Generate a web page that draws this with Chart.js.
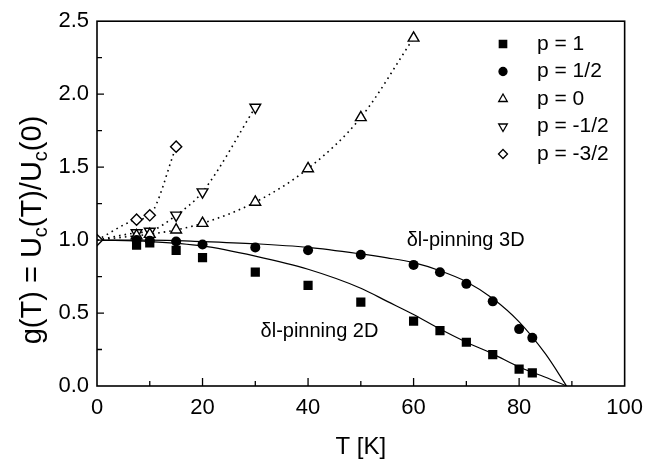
<!DOCTYPE html>
<html>
<head>
<meta charset="utf-8">
<script src="https://cdn.jsdelivr.net/npm/chart.js@4.4.1/dist/chart.umd.min.js"></script>
<style>
  html, body { margin: 0; padding: 0; background: #fff; }
  #wrap { width: 652px; height: 464px; }
</style>
</head>
<body>
<div id="wrap"><canvas id="myChart" width="652" height="464"></canvas></div>
<script>
// data
const tP1 = [7.5, 10, 15, 20, 30, 40, 50, 60, 65, 70, 75, 80, 82.5];
const gP1 = [0.965, 0.98, 0.93, 0.88, 0.78, 0.69, 0.575, 0.445, 0.38, 0.30, 0.215, 0.115, 0.09];

const tPhalf = [7.5, 10, 15, 20, 30, 40, 50, 60, 65, 70, 75, 80, 82.5];
const gPhalf = [1.0, 0.995, 0.99, 0.97, 0.95, 0.93, 0.90, 0.83, 0.78, 0.70, 0.58, 0.39, 0.33];

const tP0 = [0, 7.5, 10, 15, 20, 30, 40, 50, 60];
const gP0 = [1.0, 1.03, 1.04, 1.07, 1.115, 1.26, 1.49, 1.84, 2.385];

const tPmhalf = [0, 7.5, 10, 15, 20, 30];
const gPmhalf = [1.0, 1.05, 1.06, 1.17, 1.33, 1.91];

const tPm3half = [0, 7.5, 10, 15];
const gPm3half = [1.0, 1.14, 1.17, 1.64];

// solid fit curves
const tFit = [0, 10, 20, 30, 40, 50, 55, 60, 65, 70, 75, 80, 85, 89];
const gFit3D = [1.0, 1.0, 0.99, 0.975, 0.95, 0.905, 0.878, 0.845, 0.79, 0.715, 0.60, 0.44, 0.22, 0.0];
const gFit2D = [1.0, 0.99, 0.96, 0.89, 0.80, 0.67, 0.58, 0.49, 0.39, 0.30, 0.22, 0.13, 0.06, 0.0];

const xTicks = [0, 20, 40, 60, 80, 100];
const yTicks = [0, 0.5, 1.0, 1.5, 2.0, 2.5];

const legendLabels = ['p = 1', 'p = 1/2', 'p = 0', 'p = -1/2', 'p = -3/2'];
const notes = [
  { text: 'δl-pinning 3D', x: 58.7, y: 1.0 },
  { text: 'δl-pinning 2D', x: 31, y: 0.375 }
];

const FONT = '"Liberation Sans", Arial, Helvetica, sans-serif';
const pts = (xs, ys) => xs.map((x, i) => ({ x: x, y: ys[i] }));
const hideAtZero = (r) => (c) => (c.raw && c.raw.x === 0 ? 0 : r);

const markers = [
  { pointStyle: 'rect', radius: 6.5, rotation: 0, fill: '#000' },
  { pointStyle: 'circle', radius: 5, rotation: 0, fill: '#000' },
  { pointStyle: 'triangle', radius: 6.2, rotation: 0, fill: '#fff' },
  { pointStyle: 'triangle', radius: 6.2, rotation: 180, fill: '#fff' },
  { pointStyle: 'rectRot', radius: 5.6, rotation: 0, fill: '#fff' }
];

const frame = {
  id: 'frame',
  afterDatasetsDraw(chart) {
    const ctx = chart.ctx;
    const a = chart.chartArea;
    const xs = chart.scales.x, ys = chart.scales.y;
    ctx.save();
    ctx.strokeStyle = '#000';
    ctx.lineWidth = 1.6;
    ctx.strokeRect(a.left, a.top, a.right - a.left, a.bottom - a.top);

    // inward ticks
    ctx.lineWidth = 1.3;
    ctx.beginPath();
    for (let v = 10; v < 100; v += 10) {
      const px = xs.getPixelForValue(v);
      const len = v % 20 === 0 ? 8 : 5;
      ctx.moveTo(px, a.bottom);
      ctx.lineTo(px, a.bottom - len);
    }
    for (let v = 0.25; v < 2.5; v += 0.25) {
      const py = ys.getPixelForValue(v);
      const len = Math.abs(v * 2 - Math.round(v * 2)) < 1e-6 ? 7 : 5;
      ctx.moveTo(a.left, py);
      ctx.lineTo(a.left + len, py);
    }
    ctx.stroke();

    // notes
    ctx.fillStyle = '#000';
    ctx.font = '20px ' + FONT;
    ctx.textBaseline = 'middle';
    ctx.textAlign = 'left';
    notes.forEach(n => {
      ctx.fillText(n.text, xs.getPixelForValue(n.x), ys.getPixelForValue(n.y));
    });

    // legend
    const lx = 503, tx = 537;
    let ly = 44;
    ctx.font = '21px ' + FONT;
    legendLabels.forEach((lab, i) => {
      const m = markers[i];
      ctx.fillStyle = m.fill;
      ctx.strokeStyle = '#000';
      ctx.lineWidth = 1.3;
      Chart.helpers.drawPoint(ctx, {
        pointStyle: m.pointStyle, radius: m.radius * 0.8,
        rotation: m.rotation, borderWidth: 1.3
      }, lx, ly);
      ctx.fillStyle = '#000';
      ctx.fillText(lab, tx, ly);
      ly += 27.5;
    });

    // axis titles
    ctx.font = '24px ' + FONT;
    ctx.textAlign = 'center';
    ctx.fillText('T [K]', (a.left + a.right) / 2, 447);

    const parts = [['g(T) = U', 0], ['c', 1], ['(T)/U', 0], ['c', 1], ['(0)', 0]];
    const big = '29px ' + FONT, small = '20px ' + FONT;
    let total = 0;
    parts.forEach(p => { ctx.font = p[1] ? small : big; total += ctx.measureText(p[0]).width; });
    ctx.translate(33, 230);
    ctx.rotate(-Math.PI / 2);
    ctx.textAlign = 'left';
    let cx = -total / 2;
    parts.forEach(p => {
      ctx.font = p[1] ? small : big;
      ctx.fillText(p[0], cx, p[1] ? 8 : 0);
      cx += ctx.measureText(p[0]).width;
    });
    ctx.restore();
  }
};

const dotted = { borderColor: '#000', borderWidth: 1.6, borderDash: [1.6, 4], showLine: true,
  cubicInterpolationMode: 'monotone', pointBorderColor: '#000', pointBorderWidth: 1.4 };
const solid = { borderColor: '#000', borderWidth: 1.2, showLine: true, pointRadius: 0,
  cubicInterpolationMode: 'monotone' };

const chart = new Chart(document.getElementById('myChart'), {
  type: 'scatter',
  data: {
    datasets: [
      { label: 'p = 1', data: pts(tP1, gP1), pointStyle: 'rect', pointRadius: markers[0].radius,
        pointBackgroundColor: '#000', pointBorderColor: '#000', pointBorderWidth: 0, showLine: false },
      { label: 'p = 1/2', data: pts(tPhalf, gPhalf), pointStyle: 'circle', pointRadius: markers[1].radius,
        pointBackgroundColor: '#000', pointBorderColor: '#000', pointBorderWidth: 0, showLine: false },
      Object.assign({ label: 'p = 0', data: pts(tP0, gP0), pointStyle: 'triangle',
        pointRadius: hideAtZero(markers[2].radius), pointBackgroundColor: '#fff' }, dotted),
      Object.assign({ label: 'p = -1/2', data: pts(tPmhalf, gPmhalf), pointStyle: 'triangle', pointRotation: 180,
        pointRadius: hideAtZero(markers[3].radius), pointBackgroundColor: '#fff' }, dotted),
      Object.assign({ label: 'p = -3/2', data: pts(tPm3half, gPm3half), pointStyle: 'rectRot',
        pointRadius: markers[4].radius, pointBackgroundColor: '#fff' }, dotted),
      Object.assign({ label: 'fit 3D', data: pts(tFit, gFit3D) }, solid),
      Object.assign({ label: 'fit 2D', data: pts(tFit, gFit2D) }, solid)
    ]
  },
  options: {
    responsive: false,
    animation: false,
    devicePixelRatio: 1,
    layout: { padding: { top: 15, right: 22, left: 0, bottom: 0 } },
    plugins: { legend: { display: false }, tooltip: { enabled: false } },
    scales: {
      x: {
        type: 'linear', min: 0, max: 100,
        afterFit: (s) => { s.height = 78; },
        afterBuildTicks: (s) => { s.ticks = xTicks.map(v => ({ value: v })); },
        ticks: { color: '#000', font: { size: 22, family: FONT }, padding: 9, maxRotation: 0 },
        grid: { drawOnChartArea: false, drawTicks: false },
        border: { display: false }
      },
      y: {
        type: 'linear', min: 0, max: 2.5,
        afterFit: (s) => { s.width = 97; },
        afterBuildTicks: (s) => { s.ticks = yTicks.map(v => ({ value: v })); },
        ticks: { color: '#000', font: { size: 22, family: FONT }, padding: 8,
          callback: (v) => Number(v).toFixed(1) },
        grid: { drawOnChartArea: false, drawTicks: false },
        border: { display: false }
      }
    }
  },
  plugins: [frame]
});
</script>
</body>
</html>
